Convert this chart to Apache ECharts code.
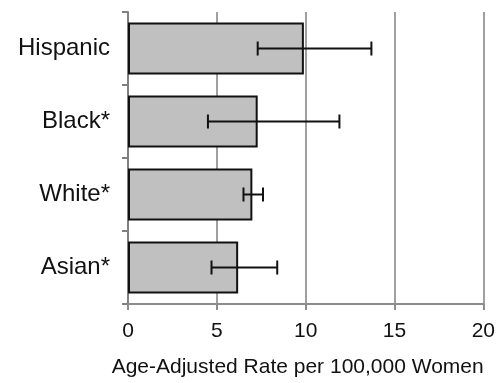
<!DOCTYPE html>
<html>
<head>
<meta charset="utf-8">
<script src="https://cdn.jsdelivr.net/npm/echarts@6/dist/echarts.min.js"></script>
<style>
html,body{margin:0;padding:0;background:#fff;}
#chart{width:498px;height:383px;}
</style>
</head>
<body>
<div id="chart"></div>
<script>
var categories = ['Hispanic', 'Black*', 'White*', 'Asian*'];
var rates = [9.9, 7.3, 7.0, 6.2];
var ciLow = [7.3, 4.5, 6.5, 4.7];
var ciHigh = [13.7, 11.9, 7.6, 8.4];
var xTicks = [0, 5, 10, 15, 20];
var xTitle = 'Age-Adjusted Rate per 100,000 Women';

var errData = categories.map(function (c, i) { return [i, ciLow[i], ciHigh[i]]; });
var font = "'Liberation Sans', Arial, sans-serif";

var chart = echarts.init(document.getElementById('chart'));
chart.setOption({
  animation: false,
  backgroundColor: '#fff',
  grid: { left: 128, right: 13, top: 12, bottom: 75, containLabel: false },
  xAxis: {
    type: 'value',
    min: xTicks[0],
    max: xTicks[xTicks.length - 1],
    interval: 5,
    name: xTitle,
    nameLocation: 'middle',
    nameGap: 53,
    nameTextStyle: { fontFamily: font, fontSize: 21, color: '#111', padding: [0, 16, 0, 0] },
    axisLine: { show: true, lineStyle: { color: '#8c8c8c', width: 2 } },
    axisTick: { show: true, length: 6, lineStyle: { color: '#8c8c8c', width: 2 } },
    axisLabel: { fontFamily: font, fontSize: 21, color: '#111', margin: 17 },
    splitLine: { show: true, lineStyle: { color: '#a0a0a0', width: 2 } }
  },
  yAxis: {
    type: 'category',
    data: categories,
    inverse: true,
    axisLine: { show: true, lineStyle: { color: '#808080', width: 2 } },
    axisTick: { show: true, length: 6, alignWithLabel: false, lineStyle: { color: '#808080', width: 2 } },
    axisLabel: { fontFamily: font, fontSize: 24, color: '#111', margin: 18 },
    splitLine: { show: false }
  },
  series: [
    {
      type: 'bar',
      data: rates,
      barCategoryGap: '29%',
      itemStyle: { color: '#c0c0c0', borderColor: '#111', borderWidth: 2 },
      z: 2
    },
    {
      type: 'custom',
      data: errData,
      encode: { x: [1, 2], y: 0 },
      z: 5,
      renderItem: function (params, api) {
        var cat = api.value(0);
        var lo = api.coord([api.value(1), cat]);
        var hi = api.coord([api.value(2), cat]);
        var h = 7;
        var style = { stroke: '#111', lineWidth: 2 };
        return {
          type: 'group',
          children: [
            { type: 'line', shape: { x1: lo[0], y1: lo[1], x2: hi[0], y2: hi[1] }, style: style },
            { type: 'line', shape: { x1: lo[0], y1: lo[1] - h, x2: lo[0], y2: lo[1] + h }, style: style },
            { type: 'line', shape: { x1: hi[0], y1: hi[1] - h, x2: hi[0], y2: hi[1] + h }, style: style }
          ]
        };
      }
    }
  ]
});
</script>
</body>
</html>
